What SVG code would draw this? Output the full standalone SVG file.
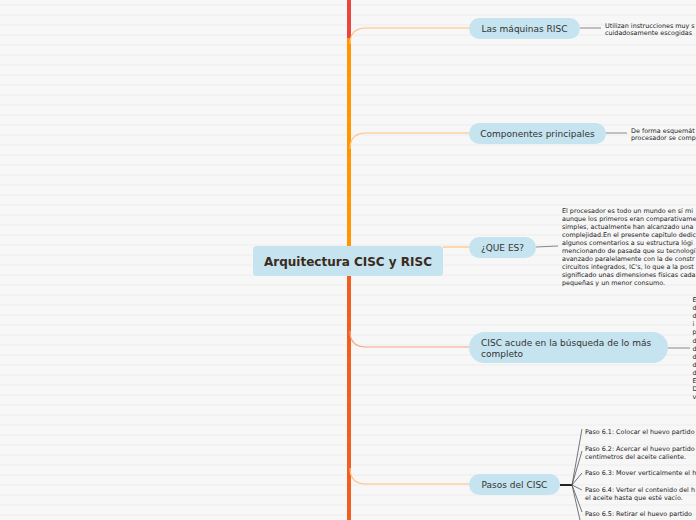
<svg xmlns="http://www.w3.org/2000/svg" width="696" height="520" viewBox="0 0 696 520">
<defs>
<pattern id="lines" x="0" y="0" width="696" height="10" patternUnits="userSpaceOnUse">
<rect x="0" y="4.5" width="696" height="1" fill="#eeeeee"/>
</pattern>
<style>
.node{fill:#c5e4ef;}
.nt{font-family:"DejaVu Sans",Verdana,sans-serif;font-size:9px;fill:#333;}
.ct{font-family:"DejaVu Sans",Verdana,sans-serif;font-size:12px;font-weight:bold;fill:#3b2a20;}
.note{font-family:"DejaVu Sans",Verdana,sans-serif;font-size:6.4px;fill:#222;}
.br{fill:none;stroke-width:1.2;}
.lk{fill:none;stroke:#888;stroke-width:1;}
</style>
</defs>
<rect width="696" height="520" fill="#f7f7f7"/>
<rect width="696" height="520" fill="url(#lines)"/>

<g id="connectors">
<line x1="349" y1="0" x2="349" y2="44" stroke="#e8463e" stroke-width="4"/>
<line x1="349" y1="38" x2="349" y2="247" stroke="#ff9600" stroke-width="4"/>
<line x1="349" y1="275" x2="349" y2="520" stroke="#f15e22" stroke-width="4"/>
<path class="br" stroke="#ffc27a" d="M350,44 Q350,28 366,28 L470,28"/>
<path class="br" stroke="#ffc27a" d="M350,149 Q350,133 366,133 L470,133"/>
<path class="br" stroke="#ffc27a" d="M443,247 L470,247"/>
<path class="br" stroke="#f5a486" d="M350,331 Q350,347 366,347 L470,347"/>
<path class="br" stroke="#ffc27a" d="M350,468 Q350,484 366,484 L470,484"/>
<path class="lk" d="M580,28 L601,28"/>
<path class="lk" stroke="#aaa" stroke-width="1.6" d="M606,133 L627,133"/>
<path class="lk" d="M536,247 L558,246"/>
<path class="lk" stroke="#f5a486" stroke-width="1.4" d="M668,348 L690,348"/>
<path fill="none" stroke="#222" stroke-width="2" d="M560,485 L572,485"/>
<g fill="none" stroke="#555" stroke-width="0.8">
<path d="M572,485 L582,429"/>
<path d="M572,485 L582,451"/>
<path d="M572,485 L582,473"/>
<path d="M572,485 L582,490"/>
<path d="M572,485 L582,512"/>
<path d="M572,485 L580,520"/>
</g>
</g>

<g id="central">
<rect x="253" y="246" width="190" height="30" rx="4" class="node"/>
<text x="348" y="265.5" text-anchor="middle" class="ct">Arquitectura CISC y RISC</text>
</g>

<g id="n-risc">
<rect x="469" y="18" width="111" height="21" rx="10.5" class="node"/>
<text x="524.5" y="31.5" text-anchor="middle" class="nt">Las máquinas RISC</text>
</g>
<g id="note-risc">
<text class="note" x="605" y="27.5">Utilizan instrucciones muy s</text>
<text class="note" x="605" y="35">cuidadosamente escogidas</text>
</g>

<g id="n-comp">
<rect x="469" y="123" width="137" height="21" rx="10.5" class="node"/>
<text x="537.5" y="136.5" text-anchor="middle" class="nt">Componentes principales</text>
</g>
<g id="note-comp">
<text class="note" x="631" y="132.5">De forma esquemát</text>
<text class="note" x="631" y="140">procesador se comp</text>
</g>

<g id="n-que">
<rect x="469" y="237" width="67" height="21" rx="10.5" class="node"/>
<text x="502.5" y="250.5" text-anchor="middle" class="nt">¿QUE ES?</text>
</g>
<g id="note-que">
<text class="note" x="562" y="213.2">El procesador es todo un mundo en sí mi</text>
<text class="note" x="562" y="221.2">aunque los primeros eran comparativame</text>
<text class="note" x="562" y="229.2">simples, actualmente han alcanzado una</text>
<text class="note" x="562" y="237.2">complejidad.En el presente capítulo dedic</text>
<text class="note" x="562" y="245.2">algunos comentarios a su estructura lógi</text>
<text class="note" x="562" y="253.2">mencionando de pasada que su tecnologí</text>
<text class="note" x="562" y="261.2">avanzado paralelamente con la de constr</text>
<text class="note" x="562" y="269.2">circuitos integrados, IC's, lo que a la post</text>
<text class="note" x="562" y="277.2">significado unas dimensiones físicas cada</text>
<text class="note" x="562" y="285.2">pequeñas y un menor consumo.</text>
</g>

<g id="n-cisc">
<rect x="469" y="332" width="199" height="31" rx="15.5" class="node"/>
<text x="481" y="346" class="nt">CISC acude en la búsqueda de lo más</text>
<text x="481" y="357" class="nt">completo</text>
</g>
<g id="note-cisc">
<text class="note" x="692.5" y="302">E</text>
<text class="note" x="692.5" y="310">d</text>
<text class="note" x="692.5" y="318">d</text>
<text class="note" x="692.5" y="326">i</text>
<text class="note" x="692.5" y="334">p</text>
<text class="note" x="692.5" y="343">d</text>
<text class="note" x="692.5" y="351">d</text>
<text class="note" x="692.5" y="359">d</text>
<text class="note" x="692.5" y="367">d</text>
<text class="note" x="692.5" y="375">d</text>
<text class="note" x="692.5" y="383">E</text>
<text class="note" x="692.5" y="391">D</text>
<text class="note" x="692.5" y="399">v</text>
</g>

<g id="n-pasos">
<rect x="469" y="474" width="91" height="21" rx="10.5" class="node"/>
<text x="514.5" y="487.5" text-anchor="middle" class="nt">Pasos del CISC</text>
</g>
<g id="pasos-items">
<text class="note" x="585" y="434">Paso 6.1: Colocar el huevo partido</text>
<text class="note" x="585" y="451">Paso 6.2: Acercar el huevo partido</text>
<text class="note" x="585" y="459">centímetros del aceite caliente.</text>
<text class="note" x="585" y="475">Paso 6.3: Mover verticalmente el h</text>
<text class="note" x="585" y="492">Paso 6.4: Verter el contenido del h</text>
<text class="note" x="585" y="500">el aceite hasta que esté vacío.</text>
<text class="note" x="585" y="516">Paso 6.5: Retirar el huevo partido</text>
</g>
</svg>
